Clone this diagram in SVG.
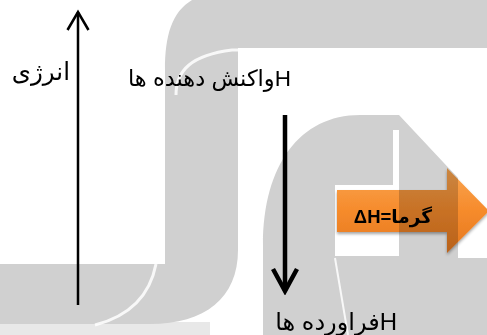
<svg xmlns="http://www.w3.org/2000/svg" width="487" height="335" viewBox="0 0 487 335">
  <style>
    .wm { fill: #d0d0d0; }
    .wmhl { fill: none; stroke: #ffffff; stroke-opacity: 0.85; }
    .ar { font-family: "Liberation Sans", "DejaVu Sans", Arial, sans-serif; fill: #000; }
    .lvl { stroke: #4a7ebb; stroke-width: 4; fill: none; filter: url(#sh); }
    .conn { stroke: #000; fill: none; }
  </style>
  <defs>
    <filter id="sh" x="-10%" y="-200%" width="120%" height="600%">
      <feDropShadow dx="0" dy="2" stdDeviation="1.5" flood-color="#000" flood-opacity="0.35"/>
    </filter>
    <linearGradient id="og" x1="0" y1="0" x2="0" y2="1">
      <stop offset="0" stop-color="#f9a652"/>
      <stop offset="0.5" stop-color="#f68b2c"/>
      <stop offset="1" stop-color="#e47820"/>
    </linearGradient>
    <marker id="headAxis" markerUnits="userSpaceOnUse" viewBox="-22 -14 26 28" markerWidth="26" markerHeight="28" refX="0" refY="0" orient="auto">
      <path d="M -18 -10.5 L 0 0 L -18 10.5" fill="none" stroke="#000" stroke-width="2.5"/>
    </marker>
    <marker id="headDown" markerUnits="userSpaceOnUse" viewBox="-26 -16 30 32" markerWidth="30" markerHeight="32" refX="0" refY="0" orient="auto">
      <path d="M -22 -12 L 0 0 L -22 12" fill="none" stroke="#000" stroke-width="4.5"/>
    </marker>
  </defs>

  <rect width="487" height="335" fill="#ffffff"/>

  <!-- watermark logo -->
  <g id="watermark">
    <rect x="0" y="322" width="210" height="13" fill="#e8e8e8"/>
    <path class="wm" d="M 165 70 C 165 35 172 12 192 0 H 487 V 48 H 238 V 250 C 238 298 205 324 150 324 H 0 V 264 H 165 Z"/>
    <path class="wmhl" stroke-width="3" d="M 176 95 C 176 70 192 55 232 50 H 487"/>
    <path class="wmhl" stroke-width="3" d="M 156 264 C 150 295 130 316 95 325"/>
    <path class="wm" d="M 263 335 V 245 C 263 165 300 115 360 115 H 399 L 458 178 V 258 H 487 V 335 Z"/>
    <rect x="335" y="185" width="64" height="71" fill="#ffffff"/>
    <rect x="393" y="130" width="6" height="57" fill="#ffffff"/>
    <path class="wmhl" stroke-width="2" d="M 335 258 L 348 335"/>
  </g>

  <!-- connectors -->
  <g id="connectors">
    <line class="conn" x1="78" y1="305" x2="78" y2="12" stroke-width="2.5" marker-end="url(#headAxis)"/>
    <line class="conn" x1="285" y1="115" x2="285" y2="291" stroke-width="4.5" marker-end="url(#headDown)"/>
  </g>

  <g id="label-energy">
    <text class="ar" x="70" y="80" font-size="24.5" text-anchor="end">انرژی</text>
  </g>

  <g id="level-reactants">
    <line class="lvl" x1="145" y1="107" x2="299" y2="107"/>
    <text class="ar" x="291" y="86" font-size="22.5" direction="rtl" unicode-bidi="embed" text-anchor="start">Hواکنش دهنده ها</text>
  </g>

  <g id="level-products">
    <line class="lvl" x1="267" y1="293" x2="397" y2="293"/>
    <text class="ar" x="397" y="330" font-size="24" direction="rtl" unicode-bidi="embed" text-anchor="start">Hفراورده ها</text>
  </g>

  <g id="heat-arrow">
    <polygon points="337,190 447,190 447,168 489,211 447,253 447,232 337,232" fill="url(#og)" style="mix-blend-mode:multiply" filter="url(#sh)"/>
    <text class="ar" x="432" y="223" font-size="18.5" font-weight="bold" direction="rtl" unicode-bidi="embed" text-anchor="start">گرما=ΔH</text>
  </g>
</svg>
